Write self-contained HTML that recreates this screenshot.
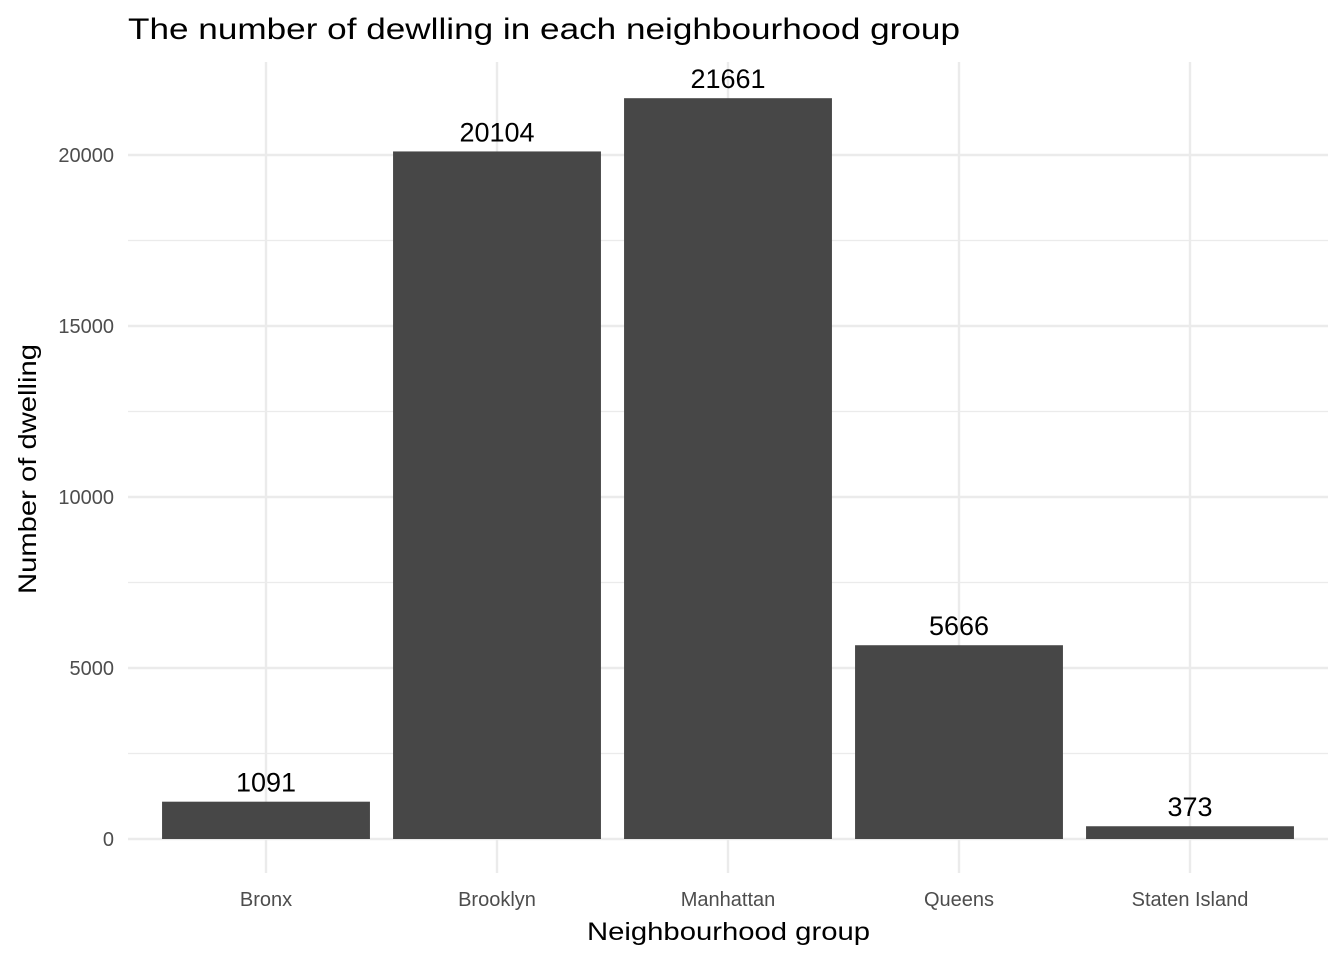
<!DOCTYPE html>
<html><head><meta charset="utf-8"><style>
body{margin:0;background:#fff;font-family:"Liberation Sans",Arial,sans-serif}
</style></head><body>
<svg width="1344" height="960" xmlns="http://www.w3.org/2000/svg" font-family="Liberation Sans, Arial, sans-serif">
<text x="128" y="39" font-size="30" textLength="832" lengthAdjust="spacingAndGlyphs" fill="#000">The number of dewlling in each neighbourhood group</text>
<g id="grid"></g>
<g id="bars"></g>
<g id="labels"></g>
<text x="587" y="940" font-size="25" textLength="283" lengthAdjust="spacingAndGlyphs" fill="#000">Neighbourhood group</text>
<text transform="translate(36,594) rotate(-90)" font-size="25" textLength="250" lengthAdjust="spacingAndGlyphs" fill="#000">Number of dwelling</text>
</svg>
<script>
const categories=["Bronx","Brooklyn","Manhattan","Queens","Staten Island"];
const values=[1091,20104,21661,5666,373];
const yTicks=[0,5000,10000,15000,20000];
const ns="http://www.w3.org/2000/svg";
const plotX0=128,plotX1=1328,plotTop=62,plotBottom=873;
const band=231, firstCenter=266;
const xC=i=>firstCenter+i*band;
const yS=v=>839-v*(684/20000);
function mk(t,a,p){const e=document.createElementNS(ns,t);for(const k in a)e.setAttribute(k,a[k]);p.appendChild(e);return e;}
const g=document.getElementById('grid'),b=document.getElementById('bars'),l=document.getElementById('labels');
for(let v=2500;v<22000;v+=5000){const ln=mk('line',{x1:plotX0,x2:plotX1,y1:yS(v),y2:yS(v),stroke:'#ebebeb','stroke-width':1.2},g);

}
yTicks.forEach(v=>{const ln=mk('line',{x1:plotX0,x2:plotX1,y1:yS(v),y2:yS(v),stroke:'#ebebeb','stroke-width':2.4},g);


const t=mk('text',{x:114,y:yS(v)+7,'font-size':20,'text-anchor':'end',fill:'#4d4d4d'},g);t.textContent=v;

});
categories.forEach((c,i)=>{const ln=mk('line',{x1:xC(i),x2:xC(i),y1:plotTop,y2:plotBottom,stroke:'#ebebeb','stroke-width':2.4},g);


const t=mk('text',{x:xC(i),y:906,'font-size':20,'text-anchor':'middle',fill:'#4d4d4d'},g);t.textContent=c;


const w=band*0.9;
const r=mk('rect',{x:xC(i)-w/2,y:yS(values[i]),width:w,height:yS(0)-yS(values[i]),fill:'#474747'},b);


const vl=mk('text',{x:xC(i),y:yS(values[i])-10,'font-size':27,'text-anchor':'middle',fill:'#000'},l);vl.textContent=values[i];

});
</script>
</body></html>
